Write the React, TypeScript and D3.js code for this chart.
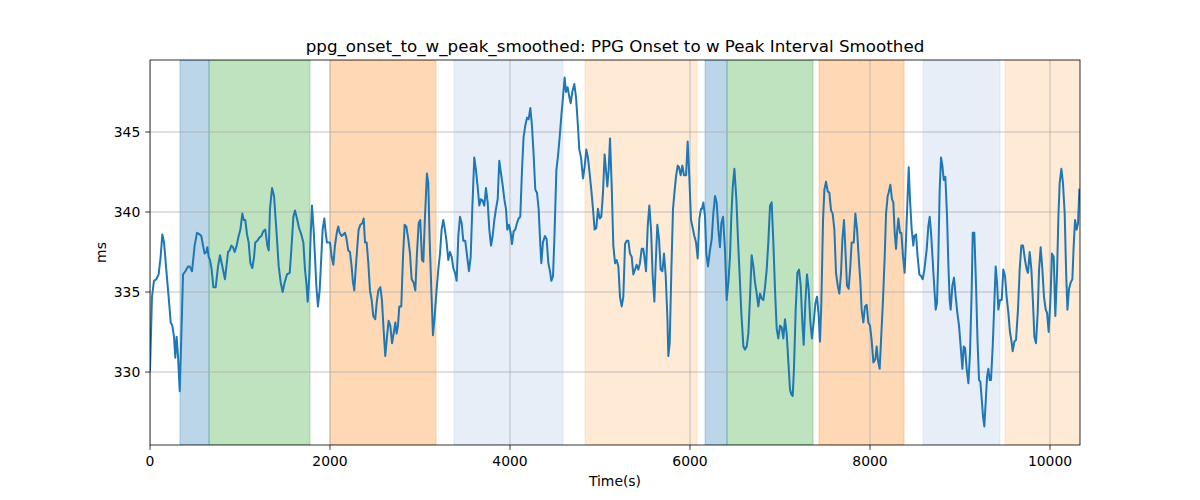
import React from "react";
import * as d3 from "d3";

const times = [0,22,44,70,96,118,137,156,181,207,230,248,267,281,296,311,330,348,367,393,422,441,467,496,522,552,570,589,607,626,637,652,667,685,704,730,756,778,800,833,867,885,904,922,941,963,985,1004,1026,1041,1059,1078,1096,1115,1137,1156,1170,1193,1215,1237,1259,1281,1304,1319,1333,1356,1378,1404,1430,1452,1474,1496,1522,1552,1570,1593,1611,1633,1656,1681,1704,1722,1737,1752,1770,1785,1800,1818,1833,1848,1866,1885,1900,1918,1937,1952,1966,1981,2000,2018,2037,2055,2078,2092,2107,2129,2148,2166,2181,2203,2222,2240,2255,2270,2285,2303,2318,2337,2359,2374,2389,2407,2426,2444,2463,2481,2503,2518,2537,2559,2577,2596,2614,2633,2651,2670,2689,2707,2726,2740,2755,2770,2792,2811,2829,2848,2870,2889,2907,2929,2948,2966,2985,3003,3022,3037,3055,3077,3092,3107,3126,3144,3163,3181,3203,3222,3240,3259,3277,3296,3314,3333,3352,3370,3389,3407,3426,3444,3463,3481,3503,3522,3544,3563,3581,3603,3622,3640,3659,3677,3696,3714,3733,3752,3770,3789,3807,3826,3844,3863,3881,3900,3918,3937,3955,3970,3989,4007,4022,4040,4059,4077,4096,4114,4133,4151,4170,4189,4207,4226,4244,4263,4281,4300,4318,4337,4348,4366,4388,4407,4426,4444,4459,4478,4496,4515,4533,4552,4570,4589,4607,4622,4640,4659,4674,4692,4714,4733,4752,4770,4789,4811,4829,4848,4866,4885,4903,4922,4940,4959,4977,4996,5014,5033,5051,5070,5081,5096,5111,5129,5148,5167,5185,5204,5222,5241,5259,5278,5296,5315,5333,5352,5370,5389,5407,5426,5444,5463,5481,5493,5511,5530,5548,5567,5585,5604,5619,5637,5656,5674,5693,5711,5730,5748,5759,5774,5793,5811,5830,5844,5863,5878,5896,5915,5933,5956,5974,5993,6011,6030,6048,6067,6085,6104,6122,6133,6148,6167,6181,6200,6219,6241,6259,6278,6296,6315,6333,6348,6367,6389,6407,6426,6444,6459,6474,6493,6515,6533,6552,6570,6593,6611,6630,6648,6667,6685,6704,6722,6741,6759,6778,6796,6815,6833,6852,6870,6889,6907,6926,6944,6963,6981,7000,7018,7037,7055,7074,7093,7111,7126,7141,7155,7174,7193,7211,7230,7248,7263,7281,7300,7318,7337,7355,7374,7393,7411,7430,7444,7459,7478,7493,7511,7530,7548,7567,7585,7604,7622,7641,7659,7678,7693,7711,7730,7744,7763,7781,7796,7819,7837,7856,7874,7893,7907,7926,7944,7963,7981,8000,8018,8037,8059,8074,8089,8107,8126,8144,8163,8178,8196,8207,8226,8244,8259,8274,8289,8300,8315,8333,8348,8367,8385,8400,8415,8430,8444,8463,8481,8492,8511,8529,8548,8567,8585,8604,8630,8648,8663,8678,8696,8715,8730,8744,8759,8774,8789,8804,8819,8837,8856,8870,8885,8896,8915,8933,8952,8970,8989,9007,9026,9041,9056,9074,9093,9111,9130,9141,9159,9178,9193,9211,9226,9241,9256,9270,9285,9300,9315,9330,9344,9363,9381,9396,9411,9426,9444,9463,9481,9500,9518,9537,9555,9570,9585,9604,9622,9644,9663,9681,9700,9722,9741,9755,9774,9793,9811,9826,9844,9863,9878,9896,9915,9933,9952,9967,9985,10004,10022,10041,10059,10078,10093,10107,10126,10144,10163,10178,10193,10211,10230,10248,10263,10278,10296,10311,10326];

const values = [330.1,334.7,335.7,335.8,336.1,337.2,338.6,338.1,336.4,334.7,333.1,332.9,332.2,330.9,332.2,331.0,328.8,332.2,336.1,336.3,336.6,336.6,336.3,337.9,338.7,338.6,338.5,337.9,337.4,337.5,337.8,337.2,337.0,336.4,335.3,335.3,336.6,337.3,336.7,335.8,337.5,337.6,337.9,337.8,337.5,337.9,338.5,338.9,339.9,339.5,339.5,338.6,338.1,336.8,336.5,337.2,338.1,338.2,338.4,338.5,338.8,338.9,337.9,337.6,340.2,341.5,341.0,338.9,336.6,335.6,335.0,335.6,336.1,336.2,337.6,339.7,340.1,339.6,339.0,338.6,338.1,336.4,335.6,334.4,336.0,338.5,340.4,338.9,337.2,335.4,334.1,335.1,336.8,338.9,339.6,338.7,338.1,338.1,338.1,337.2,336.7,337.9,338.8,339.1,338.7,338.5,338.6,338.7,338.4,337.6,337.5,336.6,335.6,335.1,336.4,337.8,338.9,339.2,339.3,339.6,338.1,338.1,336.8,335.1,334.5,333.5,333.3,334.3,335.1,335.3,334.5,332.6,331.0,332.2,333.2,332.9,331.8,332.4,333.1,332.4,332.9,334.1,334.1,337.2,339.2,339.1,338.3,337.4,335.8,335.6,335.1,337.4,339.3,339.5,337.0,336.9,339.7,342.4,341.8,338.3,335.1,332.3,333.5,334.9,336.4,337.4,338.9,339.5,338.9,338.1,337.0,337.5,337.2,336.5,336.2,335.7,338.5,339.7,339.3,338.2,338.2,337.3,336.3,337.2,340.2,343.4,342.6,341.6,340.4,340.8,340.7,340.4,341.5,340.6,338.9,337.9,338.5,339.5,340.2,340.8,343.2,342.4,341.7,340.8,340.2,338.9,339.2,338.7,338.0,338.8,338.9,339.3,339.6,339.7,342.6,344.7,345.4,345.9,345.8,346.5,345.4,343.5,341.4,341.2,340.2,337.9,336.8,338.1,338.5,338.3,336.8,336.3,335.7,336.0,338.9,342.6,343.5,344.7,346.0,347.2,348.4,347.5,347.8,347.2,346.8,347.5,348.0,347.2,345.6,343.9,343.4,342.1,342.8,343.9,343.4,342.4,341.4,340.2,338.9,339.0,340.2,339.6,339.7,341.2,343.6,342.4,341.6,342.6,344.6,341.8,337.9,336.8,337.0,336.6,334.7,334.1,334.7,338.0,338.2,338.2,337.4,337.2,336.1,336.4,336.7,336.4,336.8,337.7,337.7,337.2,336.3,339.1,340.4,338.9,336.0,334.4,336.8,339.2,338.3,336.4,336.3,337.4,336.0,333.5,331.0,331.8,336.4,340.2,341.4,342.2,342.9,342.8,342.3,342.9,342.3,342.3,344.4,342.1,339.5,339.0,338.5,338.1,337.1,339.6,340.2,340.2,340.6,339.7,337.4,336.6,337.5,338.3,339.9,341.0,340.6,338.9,337.8,339.3,339.7,337.6,334.5,335.6,337.2,339.7,341.5,342.7,340.8,338.3,336.0,333.7,331.6,331.4,331.6,332.4,334.7,337.3,336.6,335.6,334.9,334.1,334.9,334.6,334.5,335.3,336.4,338.1,340.4,340.6,338.1,335.2,332.7,332.1,332.9,332.8,332.1,333.3,332.4,330.6,328.9,328.6,328.5,330.2,333.9,336.2,336.4,335.4,333.1,331.7,334.3,336.1,335.2,333.1,332.1,333.1,334.3,334.7,333.5,331.9,334.3,339.5,341.4,341.9,341.3,341.2,340.1,339.9,338.9,336.2,335.4,334.9,336.2,338.3,339.5,337.2,335.4,335.2,336.6,338.1,338.1,339.9,338.9,337.2,335.6,333.9,333.1,334.1,334.2,333.1,332.9,332.0,330.6,330.8,331.6,330.7,330.2,332.4,334.5,337.2,339.9,341.0,341.2,341.7,340.8,340.6,338.7,337.7,338.7,339.6,338.7,338.7,337.2,336.2,338.3,340.6,342.8,340.8,338.9,337.9,338.5,338.6,337.2,336.1,336.0,335.8,336.4,337.7,339.1,339.7,338.7,337.0,335.2,333.9,334.3,337.2,341.4,343.4,342.9,342.0,342.2,339.7,336.8,334.5,333.9,335.4,335.9,334.7,333.7,332.9,331.6,330.2,331.6,331.5,330.2,329.3,331.2,335.2,338.7,338.7,335.4,332.2,329.5,329.4,328.3,327.2,326.6,328.1,329.7,330.2,329.5,329.5,331.6,334.3,336.6,335.6,333.9,334.5,334.5,336.4,336.0,334.7,333.7,332.5,332.0,331.3,331.9,332.0,333.9,336.4,337.9,337.9,337.0,336.4,336.2,337.5,336.4,334.3,332.2,331.8,333.7,336.4,337.8,336.4,334.7,333.9,333.7,332.5,334.5,337.4,337.2,333.5,336.2,339.7,341.8,342.7,341.8,339.9,336.4,333.9,335.2,335.6,335.8,337.9,339.5,338.9,339.3,341.4,340.4];

const bandStarts = [333, 656, 2000, 3378, 4833, 6167, 6411, 7433, 8589, 9500];
const bandEnds = [656, 1778, 3178, 4589, 6078, 6411, 7367, 8378, 9444, 10333];
const bandColors = ["#1f77b4", "#2ca02c", "#ff7f0e", "#aec7e8", "#ffbb78", "#1f77b4", "#2ca02c", "#ff7f0e", "#aec7e8", "#ffbb78"];

const xTicks = [0, 2000, 4000, 6000, 8000, 10000];
const yTicks = [330, 335, 340, 345];

const title = "ppg_onset_to_w_peak_smoothed: PPG Onset to w Peak Interval Smoothed";

export default function App() {
  const W = 1200, H = 500;
  const left = 150, right = 1080, top = 60, bottom = 445;
  const x = d3.scaleLinear().domain([0, 10333]).range([left, right]);
  const y = d3.scaleLinear().domain([325.44, 349.5]).range([bottom, top]);
  const line = d3.line<number>().x((d, i) => x(times[i])).y((d) => y(d));
  const font = "DejaVu Sans, sans-serif";
  const fs = 13.9;
  return (
    <svg width={W} height={H} style={{ position: "absolute", left: 0, top: 0, background: "#fff" }} fontFamily={font}>
      <defs>
        <clipPath id="plot"><rect x={left} y={top} width={right - left} height={bottom - top} /></clipPath>
      </defs>
      <g clipPath="url(#plot)">
        {bandStarts.map((s, i) => (
          <rect key={i} x={x(s)} y={top} width={x(bandEnds[i]) - x(s)} height={bottom - top}
            fill={bandColors[i]} fillOpacity={0.3} stroke={bandColors[i]} strokeOpacity={0.3} strokeWidth={1} />
        ))}
        {xTicks.map((t) => (
          <line key={"gx" + t} x1={x(t)} x2={x(t)} y1={top} y2={bottom} stroke="#b0b0b0" strokeWidth={0.8} />
        ))}
        {yTicks.map((t) => (
          <line key={"gy" + t} x1={left} x2={right} y1={y(t)} y2={y(t)} stroke="#b0b0b0" strokeWidth={0.8} />
        ))}
        <path d={line(values) || ""} fill="none" stroke="#1f77b4" strokeWidth={2} strokeLinejoin="round" strokeLinecap="square" />
      </g>
      <rect x={left} y={top} width={right - left} height={bottom - top} fill="none" stroke="#000" strokeWidth={0.8} />
      {xTicks.map((t) => (
        <g key={"xt" + t}>
          <line x1={x(t)} x2={x(t)} y1={bottom} y2={bottom + 4.86} stroke="#000" strokeWidth={0.8} />
          <text x={x(t)} y={bottom + 20.5} fontSize={fs} textAnchor="middle">{t}</text>
        </g>
      ))}
      {yTicks.map((t) => (
        <g key={"yt" + t}>
          <line x1={left - 4.86} x2={left} y1={y(t)} y2={y(t)} stroke="#000" strokeWidth={0.8} />
          <text x={left - 9.7} y={y(t) + 5} fontSize={fs} textAnchor="end">{t}</text>
        </g>
      ))}
      <text x={(left + right) / 2} y={486} fontSize={fs} textAnchor="middle">Time(s)</text>
      <text transform={`translate(106, ${(top + bottom) / 2}) rotate(-90)`} fontSize={fs} textAnchor="middle">ms</text>
      <text x={(left + right) / 2} y={52} fontSize={16.7} textAnchor="middle">{title}</text>
    </svg>
  );
}
